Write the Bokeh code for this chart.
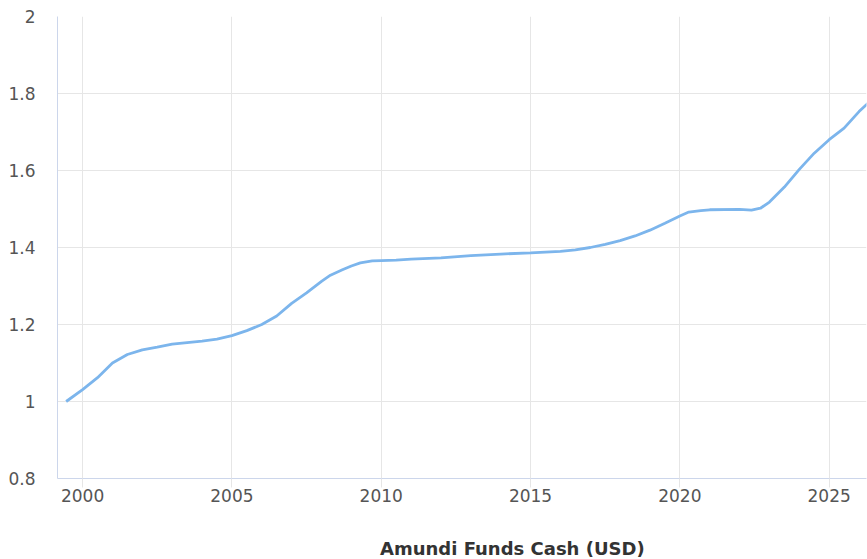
from bokeh.plotting import figure
from bokeh.models import Legend, LegendItem, FixedTicker, Range1d
from bokeh.layouts import column
from bokeh.embed import file_html
from bokeh.resources import INLINE

years = [1999.45, 2000, 2000.5, 2001, 2001.5, 2002, 2002.5, 2003, 2004, 2004.5, 2005, 2005.5,
         2006, 2006.5, 2007, 2007.5, 2008, 2008.3, 2008.7, 2009, 2009.3, 2009.7, 2010, 2010.5,
         2011, 2012, 2013, 2014, 2015, 2016, 2016.5, 2017, 2017.5, 2018, 2018.5, 2019, 2019.5,
         2020, 2020.3, 2020.7, 2021, 2022, 2022.4, 2022.7, 2023, 2023.5, 2024, 2024.5, 2025,
         2025.5, 2026, 2026.3]
values = [1.000, 1.031, 1.062, 1.100, 1.122, 1.134, 1.141, 1.149, 1.157, 1.162, 1.171, 1.184,
          1.200, 1.222, 1.255, 1.282, 1.312, 1.328, 1.342, 1.352, 1.360, 1.365, 1.366, 1.367,
          1.370, 1.373, 1.379, 1.383, 1.386, 1.390, 1.394, 1.400, 1.408, 1.418, 1.430, 1.445,
          1.463, 1.482, 1.492, 1.496, 1.498, 1.499, 1.497, 1.502, 1.518, 1.557, 1.603, 1.645,
          1.680, 1.710, 1.753, 1.775]
series_name = "Amundi Funds Cash (USD)"
x_ticks = [2000, 2005, 2010, 2015, 2020, 2025]
y_ticks = [0.8, 1.0, 1.2, 1.4, 1.6, 1.8, 2.0]
y_labels = {0.8: "0.8", 1.0: "1", 1.2: "1.2", 1.4: "1.4", 1.6: "1.6", 1.8: "1.8", 2.0: "2"}

FONT = "DejaVu Sans"
LINE_COLOR = "#7cb5ec"

p = figure(output_backend="svg", toolbar_location=None,
           width=867, height=519,
           x_range=Range1d(1999.16, 2026.25), y_range=Range1d(0.8, 2.0),
           min_border_left=57, min_border_top=16, min_border_right=1, min_border_bottom=41,
           outline_line_color=None)
p.background_fill_color = "white"
p.border_fill_color = "white"

r = p.line(years, values, line_color=LINE_COLOR, line_width=2.8)

xa = p.xaxis[0]
xa.ticker = FixedTicker(ticks=x_ticks)
xa.axis_line_color = "#ccd6eb"
xa.major_tick_line_color = "#e6e6e6"
xa.major_tick_out = 9
xa.major_tick_in = 0
xa.minor_tick_line_color = None
xa.major_label_text_font = FONT
xa.major_label_text_font_size = "17px"
xa.major_label_text_color = "#555555"
xa.major_label_standoff = 1

ya = p.yaxis[0]
ya.ticker = FixedTicker(ticks=y_ticks)
ya.major_label_overrides = y_labels
ya.axis_line_color = "#ccd6eb"
ya.major_tick_line_color = None
ya.major_tick_out = 0
ya.major_tick_in = 0
ya.minor_tick_line_color = None
ya.major_label_text_font = FONT
ya.major_label_text_font_size = "17px"
ya.major_label_text_color = "#555555"
ya.major_label_standoff = 22

p.xgrid.ticker = FixedTicker(ticks=x_ticks)
p.ygrid.ticker = FixedTicker(ticks=y_ticks)
p.xgrid.grid_line_color = "#e6e6e6"
p.ygrid.grid_line_color = "#e6e6e6"

# separate strip for the legend below the chart
lf = figure(output_backend="svg", toolbar_location=None,
            width=867, height=40, x_axis_type=None, y_axis_type=None,
            x_range=Range1d(0, 1), y_range=Range1d(0, 1),
            min_border=0, outline_line_color=None)
lf.background_fill_color = "white"
lf.border_fill_color = "white"
lr = lf.line([], [], line_color=LINE_COLOR, line_width=2.8)

legend = Legend(items=[LegendItem(label=series_name, renderers=[lr])],
                orientation="horizontal", location=(292, 0),
                label_text_font=FONT, label_text_font_size="18px",
                label_text_font_style="bold", label_text_color="#333333",
                glyph_width=24, glyph_height=10, label_standoff=7,
                border_line_color=None, background_fill_alpha=0,
                margin=0, padding=0)
lf.add_layout(legend, "center")

layout = column(p, lf, spacing=0)
open("out.html", "w").write(file_html(layout, INLINE))
